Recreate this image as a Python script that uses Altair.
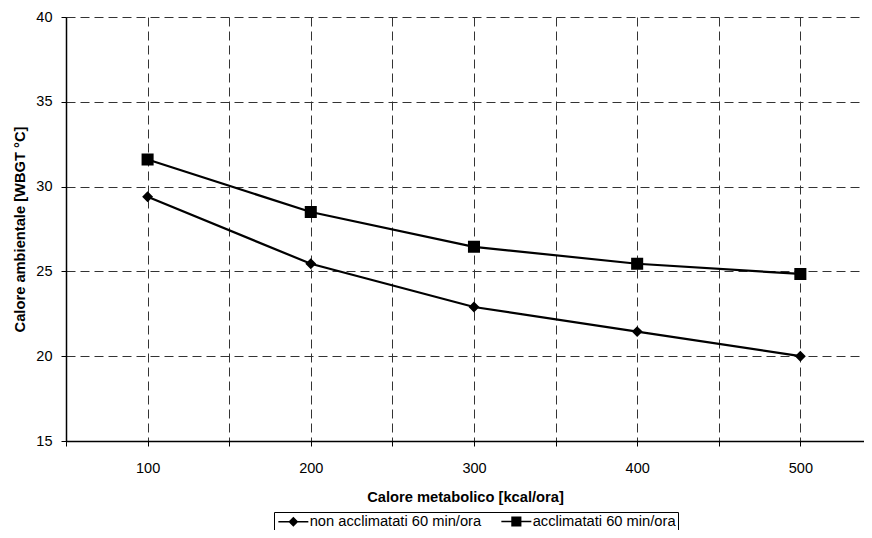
import altair as alt
import pandas as pd

# ---- data ----
carico = [100, 200, 300, 400, 500]
non_acclimatati = [29.4, 25.45, 22.9, 21.45, 20.0]
acclimatati = [31.6, 28.5, 26.45, 25.45, 24.85]
serie = ["non acclimatati 60 min/ora", "acclimatati 60 min/ora"]
x_ticks = [50, 100, 150, 200, 250, 300, 350, 400, 450, 500]
y_ticks = [15, 20, 25, 30, 35, 40]

rows = []
for s, vals in zip(serie, [non_acclimatati, acclimatati]):
    for c, v in zip(carico, vals):
        rows.append({"carico": c, "calore": v, "serie": s})
df = pd.DataFrame(rows)

FONT = "Liberation Sans"

# marker shapes: filled diamond / square plus a stroke-only horizontal segment
# (the segment only shows where a stroke is drawn, i.e. in the legend)
DIAMOND_PATH = "M-2.5,0H2.5M0,-0.65L0.65,0L0,0.65L-0.65,0Z"
SQUARE_PATH = "M-2.5,0H2.5M-0.72,-0.72H0.72V0.72H-0.72Z"

shape_scale = alt.Scale(domain=serie, range=[DIAMOND_PATH, SQUARE_PATH])

x = alt.X(
    "carico:Q",
    scale=alt.Scale(domain=[50, 539], nice=False, zero=False),
    axis=alt.Axis(
        values=x_ticks,
        title="Calore metabolico [kcal/ora]",
        labelExpr="datum.value % 100 == 0 && datum.value >= 100 ? datum.label : ''",
        labelPadding=15,
        titlePadding=15,
        labelFlush=False,
    ),
)
y = alt.Y(
    "calore:Q",
    scale=alt.Scale(domain=[15, 40], nice=False, zero=False),
    axis=alt.Axis(
        values=y_ticks,
        title="Calore ambientale [WBGT °C]",
        labelPadding=9,
        titlePadding=8,
    ),
)

base = alt.Chart(df)

# legend-only layer (no data drawn): stroked so the legend shows the line segment
legend_layer = (
    base.transform_filter("false")
    .mark_point(filled=True, fill="black", stroke="black", strokeWidth=1.8, opacity=1)
    .encode(
        x=x,
        y=y,
        shape=alt.Shape(
            "serie:N",
            scale=shape_scale,
            legend=alt.Legend(
                title=None,
                orient="none",
                legendX=208,
                legendY=495,
                direction="horizontal",
                strokeColor="black",
                fillColor="white",
                padding=2,
                cornerRadius=0,
                labelFont=FONT,
                labelFontSize=14.7,
                labelColor="black",
                labelLimit=400,
                symbolSize=144,
                symbolOpacity=1,
                symbolOffset=10,
                labelOffset=9,
                columnPadding=16,
            ),
        ),
    )
)

line = base.mark_line(color="black", strokeWidth=2.2).encode(
    x=x, y=y, detail="serie:N"
)

points = base.mark_point(filled=True, fill="black", opacity=1, size=280).encode(
    x=x,
    y=y,
    shape=alt.Shape("serie:N", scale=shape_scale, legend=None),
)

chart = (
    alt.layer(legend_layer, line, points)
    .properties(
        width=798,
        height=424,
        autosize=alt.AutoSizeParams(type="none"),
        padding={"left": 58, "top": 9, "right": 0, "bottom": 89},
    )
    .configure_view(stroke=None)
    .configure_axis(
        labelFont=FONT,
        labelFontSize=14.5,
        labelColor="black",
        titleFont=FONT,
        titleFontSize=14.7,
        titleFontWeight="bold",
        titleColor="black",
        domainColor="black",
        domainWidth=1.5,
        tickColor="black",
        tickSize=5,
        tickWidth=1,
        gridColor="#333333",
        gridDash=[9, 5],
        gridWidth=1,
        gridOpacity=1,
    )
)

chart.save("out.html", embed_options={"renderer": "svg", "actions": False})
